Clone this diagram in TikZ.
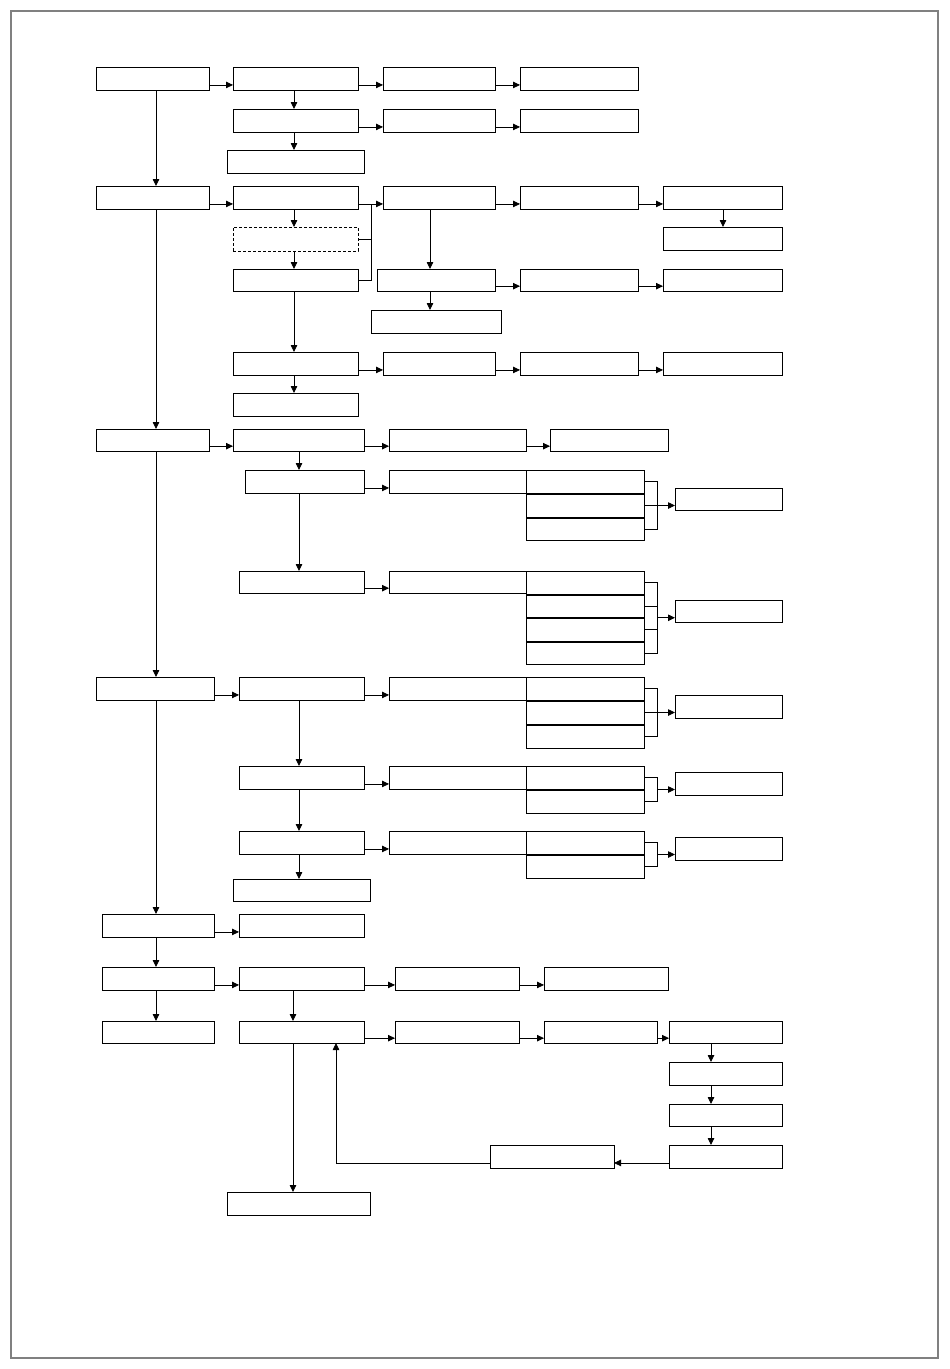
\documentclass[tikz,border=0pt]{standalone}
\usetikzlibrary{arrows.meta,calc,fit}
\newcommand\B[5]{\node[bx,fit={(#2,#3)(#4,#5)}] (#1) {};}
\newcommand\HA[2]{\draw[arr] ($(#1.south east)!.22!(#1.north east)$) coordinate (t) -- (t -| #2.west);}
\newcommand\VA[3]{\draw[arr] (#1.south -| #3,0) -- (#2.north -| #3,0);}
\begin{document}
\begin{tikzpicture}[x=1pt,y=-1pt,
  bx/.style={draw,line width=0.8pt,inner sep=0pt,outer sep=0pt},
  dbx/.style={bx,dash pattern=on 3pt off 2pt},
  ln/.style={line width=0.8pt},
  arr/.style={ln,-{Triangle[length=7pt,width=6.5pt]}}]
\useasboundingbox (0,0) rectangle (950,1369);
\draw[gray,line width=1.2pt] (11,11) rectangle (938,1358);
% section 1
\B{L1}{96}{67}{209}{90}
\B{A1}{233}{67}{358}{90}
\B{A2}{383}{67}{495}{90}
\B{A3}{520}{67}{638}{90}
\B{B1}{233}{109}{358}{132}
\B{B2}{383}{109}{495}{132}
\B{B3}{520}{109}{638}{132}
\B{C1}{227}{150}{364}{173}
\HA{L1}{A1}\HA{A1}{A2}\HA{A2}{A3}
\VA{A1}{B1}{294}
\HA{B1}{B2}\HA{B2}{B3}
\VA{B1}{C1}{294}
% section 2
\B{L2}{96}{186}{209}{209}
\B{D1}{233}{186}{358}{209}
\node[dbx,fit={(233,227)(358,251)}] (Dd) {};
\B{E1}{233}{269}{358}{291}
\B{F1}{233}{352}{358}{375}
\B{G1}{233}{393}{358}{416}
\B{D2}{383}{186}{495}{209}
\B{D3}{520}{186}{638}{209}
\B{D4}{663}{186}{782}{209}
\B{D5}{663}{227}{782}{250}
\B{H2}{377}{269}{495}{291}
\B{H3}{520}{269}{638}{291}
\B{H4}{663}{269}{782}{291}
\B{I2}{371}{310}{501}{333}
\B{F2}{383}{352}{495}{375}
\B{F3}{520}{352}{638}{375}
\B{F4}{663}{352}{782}{375}
\HA{L2}{D1}
\HA{D1}{D2}
\draw[ln] (E1.east) -- (E1.east -| 371,0) -- (t -| 371,0);
\draw[ln] (Dd.east) -- (Dd.east -| 371,0);
\VA{D1}{Dd}{294}\VA{Dd}{E1}{294}\VA{E1}{F1}{294}\VA{F1}{G1}{294}
\HA{D2}{D3}\HA{D3}{D4}\VA{D4}{D5}{723}
\VA{D2}{H2}{430}\HA{H2}{H3}\HA{H3}{H4}\VA{H2}{I2}{430}
\HA{F1}{F2}\HA{F2}{F3}\HA{F3}{F4}
% section 3
\B{L3}{96}{429}{209}{451}
\B{J1}{233}{429}{364}{451}
\B{J2}{389}{429}{526}{451}
\B{J3}{550}{429}{668}{451}
\B{K1}{245}{470}{364}{493}
\B{K2}{389}{470}{526}{493}
\B{Ka}{526}{470}{644}{493}
\B{Kb}{526}{494}{644}{517}
\B{Kc}{526}{518}{644}{540}
\B{Ko}{675}{488}{782}{510}
\B{M1}{239}{571}{364}{593}
\B{M2}{389}{571}{526}{593}
\B{Ma}{526}{571}{644}{594}
\B{Mb}{526}{595}{644}{617}
\B{Mc}{526}{618}{644}{641}
\B{Md}{526}{642}{644}{664}
\B{Mo}{675}{600}{782}{622}
\HA{L3}{J1}\HA{J1}{J2}\HA{J2}{J3}
\VA{J1}{K1}{299}\HA{K1}{K2}\VA{K1}{M1}{299}\HA{M1}{M2}
\draw[ln] (Ka.east) -- (Ka.east -| 657,0) -- (Kc.east -| 657,0) -- (Kc.east);
\draw[ln] (Kb.east) -- (Kb.east -| 657,0);
\draw[arr] (Kb.east -| 657,0) -- (Kb.east -| Ko.west);
\draw[ln] (Ma.east) -- (Ma.east -| 657,0) -- (Md.east -| 657,0) -- (Md.east);
\draw[ln] (Mb.east) -- (Mb.east -| 657,0);
\draw[ln] (Mc.east) -- (Mc.east -| 657,0);
\coordinate (mM) at ($(Ma.east -| 657,0)!.5!(Md.east -| 657,0)$);
\draw[arr] (mM) -- (mM -| Mo.west);
% section 4
\B{L4}{96}{677}{214}{700}
\B{N1}{239}{677}{364}{700}
\B{N2}{389}{677}{526}{700}
\B{Na}{526}{677}{644}{700}
\B{Nb}{526}{701}{644}{724}
\B{Nc}{526}{725}{644}{748}
\B{No}{675}{695}{782}{718}
\B{P1}{239}{766}{364}{789}
\B{P2}{389}{766}{526}{789}
\B{Pa}{526}{766}{644}{789}
\B{Pb}{526}{790}{644}{813}
\B{Po}{675}{772}{782}{795}
\B{Q1}{239}{831}{364}{854}
\B{Q2}{389}{831}{526}{854}
\B{Qa}{526}{831}{644}{854}
\B{Qb}{526}{855}{644}{878}
\B{Qo}{675}{837}{782}{860}
\B{R1}{233}{879}{370}{901}
\HA{L4}{N1}\HA{N1}{N2}\VA{N1}{P1}{299}\HA{P1}{P2}\VA{P1}{Q1}{299}\HA{Q1}{Q2}\VA{Q1}{R1}{299}
\draw[ln] (Na.east) -- (Na.east -| 657,0) -- (Nc.east -| 657,0) -- (Nc.east);
\draw[ln] (Nb.east) -- (Nb.east -| 657,0);
\draw[arr] (Nb.east -| 657,0) -- (Nb.east -| No.west);
\draw[ln] (Pa.east) -- (Pa.east -| 657,0) -- (Pb.east -| 657,0) -- (Pb.east);
\coordinate (mP) at ($(Pa.east -| 657,0)!.5!(Pb.east -| 657,0)$);
\draw[arr] (mP) -- (mP -| Po.west);
\draw[ln] (Qa.east) -- (Qa.east -| 657,0) -- (Qb.east -| 657,0) -- (Qb.east);
\coordinate (mQ) at ($(Qa.east -| 657,0)!.5!(Qb.east -| 657,0)$);
\draw[arr] (mQ) -- (mQ -| Qo.west);
% section 5
\B{L5}{102}{914}{214}{937}
\B{S1}{239}{914}{364}{937}
\B{L6}{102}{967}{214}{990}
\B{T1}{239}{967}{364}{990}
\B{T2}{395}{967}{519}{990}
\B{T3}{544}{967}{668}{990}
\B{L7}{102}{1021}{214}{1043}
\B{U1}{239}{1021}{364}{1043}
\B{U2}{395}{1021}{519}{1043}
\B{U3}{544}{1021}{657}{1043}
\B{U4}{669}{1021}{782}{1043}
\B{V1}{669}{1062}{782}{1085}
\B{V2}{669}{1104}{782}{1126}
\B{V3}{669}{1145}{782}{1168}
\B{W}{490}{1145}{614}{1168}
\B{X}{227}{1192}{370}{1215}
\HA{L5}{S1}\HA{L6}{T1}\HA{T1}{T2}\HA{T2}{T3}
\HA{U1}{U2}\HA{U2}{U3}\HA{U3}{U4}
\VA{T1}{U1}{293}\VA{U1}{X}{293}
\VA{U4}{V1}{711}\VA{V1}{V2}{711}\VA{V2}{V3}{711}
\draw[arr] ($(V3.south west)!.22!(V3.north west)$) coordinate (t) -- (t -| W.east);
\draw[arr] ($(W.south west)!.22!(W.north west)$) -| (U1.south -| 336,0);
% left column
\VA{L1}{L2}{156}\VA{L2}{L3}{156}\VA{L3}{L4}{156}\VA{L4}{L5}{156}\VA{L5}{L6}{156}\VA{L6}{L7}{156}
\end{tikzpicture}
\end{document}
